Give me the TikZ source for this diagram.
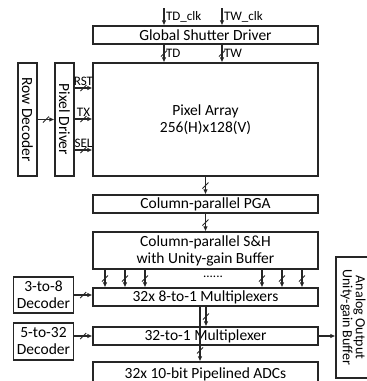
\documentclass[tikz,border=0pt]{standalone}
\usepackage{fontspec}
\setmainfont{Carlito}
\usetikzlibrary{arrows.meta, positioning, calc, decorations.markings}

\begin{document}
\begin{tikzpicture}[x=1pt, y=-1pt,
  box/.style={draw=black!85, line width=1.1pt, fill=white, minimum width=225pt, minimum height=18pt, inner sep=0pt, align=center, font=\fontsize{15.5}{17}\selectfont},
  vbox/.style={box, rotate=-90, minimum width=113pt, minimum height=19pt},
  arrow/.style={-{Latex[length=5pt,width=4.5pt]}, line width=1.1pt, draw=black!85},
  bus/.style={postaction={decorate}, decoration={markings, mark=at position #1 with {\pgftransformresetnontranslations \draw[-, line width=0.9pt] (-3pt,-3pt) -- (3pt,3pt);}}},
  bus/.default=0.5,
  lbl/.style={font=\fontsize{13}{13}\selectfont, inner sep=1.5pt}
]
  \useasboundingbox (0,0) rectangle (367,381);

  % blocks
  \node[box] (gsd) at (205.5,35) {Global Shutter Driver};
  \node[box, minimum height=113pt] (pix) at (205.5,119.5) {Pixel Array\\256(H)x128(V)};
  \node[vbox] (rowdec) at (27.5,119.5) {Row Decoder};
  \node[vbox] (pixdrv) at (64.5,119.5) {Pixel Driver};
  \node[box] (pga) at (205.5,204) {Column-parallel PGA};
  \node[box, minimum height=37pt] (sh) at (205.5,250.5) {Column-parallel S\&H\\with Unity-gain Buffer};
  \node[box] (mux8) at (205.5,297) {32x 8-to-1 Multiplexers};
  \node[box] (mux32) at (205.5,336) {32-to-1 Multiplexer};
  \node[box, minimum height=24pt] (adc) at (205.5,374) {32x 10-bit Pipelined ADCs};
  \node[box, minimum width=60pt, minimum height=36pt] (dec38) at (43.5,295) {3-to-8\\Decoder};
  \node[box, minimum width=60pt, minimum height=37pt] (dec532) at (43.5,341.5) {5-to-32\\Decoder};
  \node[box, rotate=-90, minimum width=121pt, minimum height=34pt, font=\fontsize{14}{13}\selectfont] (buf) at (353,317.5) {Analog Output\\Unity-gain Buffer};
  \node[font=\fontsize{13}{13}\selectfont, inner sep=0pt] (dots) at (213,277) {......};

  \coordinate (tdclk) at (164,8);
  \coordinate (twclk) at (222,8);

  % connections
  \draw[arrow] (tdclk) -- (tdclk |- gsd.north) node[lbl, midway, right] {TD\_clk};
  \draw[arrow] (twclk) -- (twclk |- gsd.north) node[lbl, midway, right] {TW\_clk};
  \draw[arrow, bus] (gsd.south -| tdclk) -- (pix.north -| tdclk) node[lbl, midway, right] {TD};
  \draw[arrow, bus] (gsd.south -| twclk) -- (pix.north -| twclk) node[lbl, midway, right] {TW};
  \draw[arrow, bus] (rowdec) -- (pixdrv);
  \foreach \lab/\y in {RST/88, TX/119, SEL/150}
    \draw[arrow, bus] (pixdrv.north |- 0,\y) -- (pix.west |- 0,\y) node[lbl, midway, above] {\lab};
  \draw[arrow, bus] (pix) -- (pga);
  \draw[arrow, bus] (pga) -- (sh);
  \foreach \x in {105,125,145,262,282,302}
    \draw[arrow, bus] (sh.south -| \x,0) -- (mux8.north -| \x,0);
  \draw[arrow, bus] (dec38.east) -- (dec38.east -| mux8.west);
  \draw[arrow, bus] (mux32.west -| dec532.east) -- (mux32.west);
  \draw[arrow, bus] (mux8.south -| 206,0) -- (mux32.north -| 206,0);
  \draw[arrow, bus=0.8] (mux8.south -| 200,0) -- (adc.north -| 200,0);
  \draw[arrow] (mux32.east) -- (mux32.east -| buf.south);
\end{tikzpicture}
\end{document}
